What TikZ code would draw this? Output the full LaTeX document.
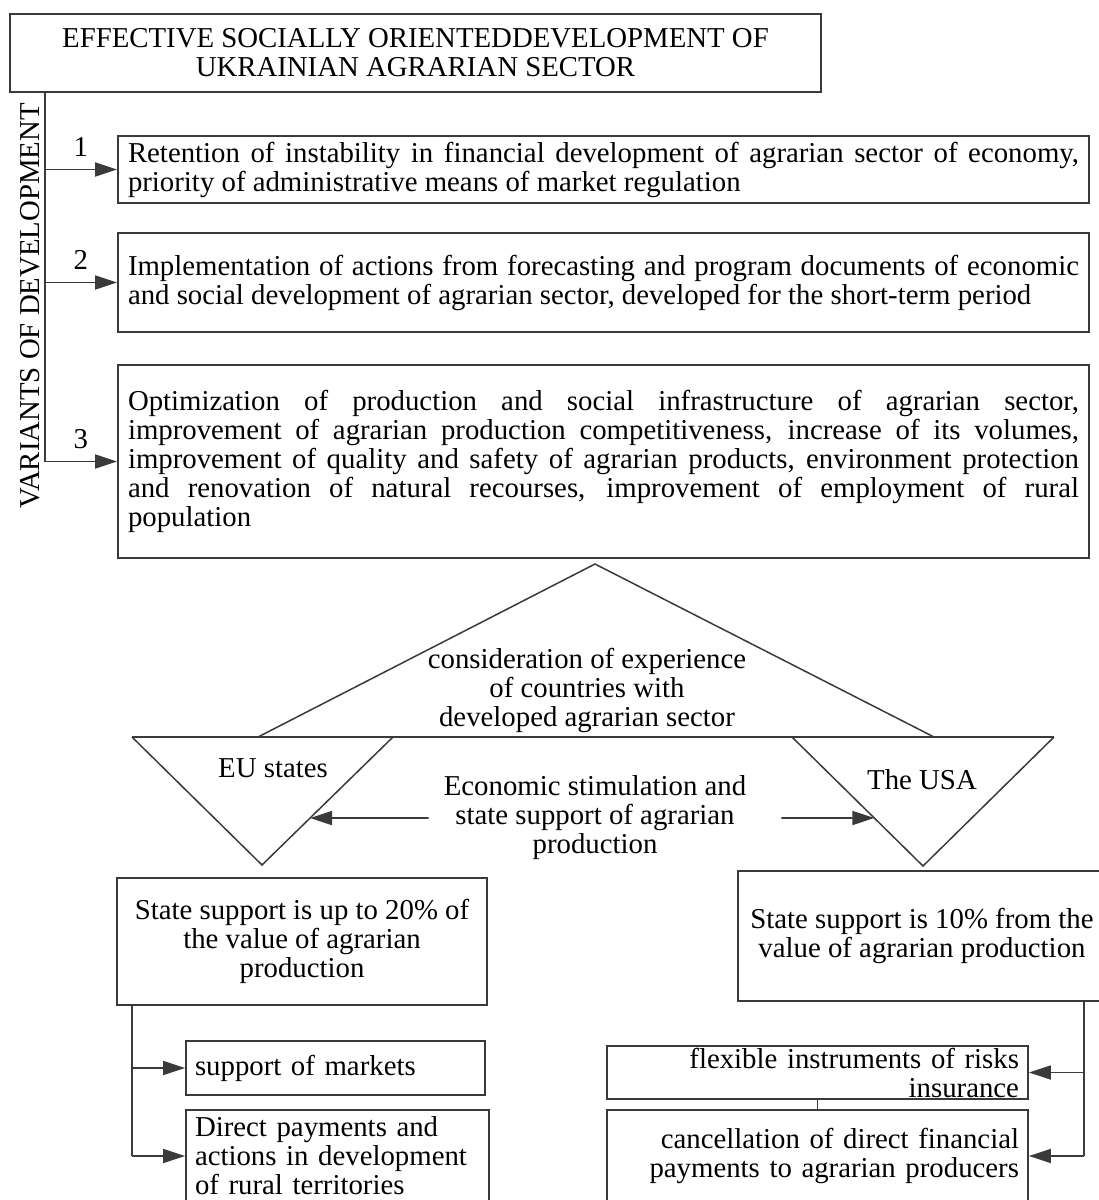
\documentclass[tikz,border=0pt]{standalone}
\usepackage{fontspec}
\setmainfont{Liberation Serif}
\usetikzlibrary{arrows.meta,calc,positioning}
\definecolor{gris}{HTML}{3A3A3A}

\begin{document}
\begin{tikzpicture}[x=1pt, y=-1pt,
    every node/.style={font=\fontsize{28.8}{29}\selectfont, inner sep=0pt},
    linea/.style={draw=gris, line width=1.8pt},
    caja/.style={linea, rectangle},
    flecha/.style={linea, -{Triangle[length=22pt,width=14pt]}}]
    \useasboundingbox (0,0) rectangle (1099,1200);
    % Title box
    \node[caja, minimum width=811pt, minimum height=78pt, align=center] (titulo) at (415.5,53)
        {EFFECTIVE SOCIALLY ORIENTEDDEVELOPMENT OF\\UKRAINIAN AGRARIAN SECTOR};
    \node[rotate=90] (variantes) at (30,306) {VARIANTS OF DEVELOPMENT};
    % Three variants of development
    \node[caja, minimum width=971pt, minimum height=67pt, text width=951pt, align=justify] (ret) at (603.5,169.5)
        {Retention of instability in financial development of agrarian sector of economy,\linebreak
         priority of administrative means of market regulation};
    \node[caja, minimum width=971pt, minimum height=99pt, text width=951pt, align=justify] (impl) at (603.5,282.5)
        {Implementation of actions from forecasting and program documents of economic\linebreak
         and social development of agrarian sector, developed for the short-term period};
    \node[caja, minimum width=971pt, minimum height=193pt, text width=951pt, align=justify] (opt) at (603.5,461.5)
        {Optimization of production and social infrastructure of agrarian sector,\linebreak
         improvement of agrarian production competitiveness, increase of its volumes,\linebreak
         improvement of quality and safety of agrarian products, environment protection\linebreak
         and renovation of natural recourses, improvement of employment of rural\linebreak
         population};
    \coordinate (tronco) at ([xshift=35.6pt]titulo.south west);
    \draw[linea] (tronco) -- (tronco |- opt.west);
    \draw[flecha] (tronco |- ret.west) -- node[above=12pt] {1} (ret.west);
    \draw[flecha] (tronco |- impl.west) -- node[above=12pt] {2} (impl.west);
    \draw[flecha] (tronco |- opt.west) -- node[above=12pt] {3} (opt.west);
    % Triangles: experience of countries, EU, USA
    \coordinate (cima) at (595,564);
    \coordinate (base-i) at (258,737);
    \coordinate (base-d) at (934,737);
    \coordinate (eu-i) at (132,737);
    \coordinate (eu-d) at (393,737);
    \coordinate (eu-v) at (262,865);
    \coordinate (usa-i) at (792,737);
    \coordinate (usa-d) at (1054,737);
    \coordinate (usa-v) at (923,866);
    \draw[linea, line width=1.5pt] (base-i) -- (cima) -- (base-d);
    \draw[linea, line width=1.5pt] (eu-i) -- (usa-d);
    \draw[linea, line width=1.5pt] (eu-i) -- (eu-v) -- (eu-d);
    \draw[linea, line width=1.5pt] (usa-i) -- (usa-v) -- (usa-d);
    \node[align=center] (experiencia) at (587,690)
        {consideration of experience\\of countries with\\developed agrarian sector};
    \node (ue) at (273,768) {EU states};
    \node (eeuu) at (922,780) {The USA};
    \node[align=center] (estimulo) at (595,818)
        {Economic stimulation and\\state support of agrarian\\production};
    \draw[flecha] ([xshift=-15pt]estimulo.west) -- ($(eu-d)!0.633!(eu-v)$);
    \draw[flecha] ([xshift=35pt]estimulo.east) -- ($(usa-i)!0.628!(usa-v)$);
    % EU support
    \node[caja, minimum width=370pt, minimum height=127pt, align=center] (apoyo-ue) at (302,941.5)
        {State support is up to 20\% of\\the value of agrarian\\production};
    \node[caja, minimum width=299pt, minimum height=54pt, text width=281pt, align=left] (mercados) at (335.5,1068)
        {support of markets};
    \node[caja, minimum width=303pt, minimum height=92pt, text width=285pt, align=left] (pagos) at (337.5,1156)
        {Direct payments and\\actions in development\\of rural territories};
    \coordinate (rama-ue) at ([xshift=16pt]apoyo-ue.south west);
    \draw[linea] (rama-ue) -- (rama-ue |- pagos.west);
    \draw[flecha] (rama-ue |- mercados.west) -- (mercados.west);
    \draw[flecha] (rama-ue |- pagos.west) -- (pagos.west);
    % USA support
    \node[caja, minimum width=368pt, minimum height=130pt, align=center] (apoyo-eeuu) at (922,936)
        {State support is 10\% from the\\value of agrarian production};
    \node[caja, minimum width=421pt, minimum height=53pt, text width=403pt, align=right] (seguros) at (817.5,1072.5)
        {flexible instruments of risks\\insurance};
    \node[caja, minimum width=421pt, minimum height=92pt, text width=403pt, align=right] (cancelacion) at (817.5,1156)
        {cancellation of direct financial\\payments to agrarian producers};
    \coordinate (rama-eeuu) at ([xshift=-23pt]apoyo-eeuu.south east);
    \draw[linea] (rama-eeuu) -- (rama-eeuu |- cancelacion.east);
    \draw[flecha] (rama-eeuu |- seguros.east) -- (seguros.east);
    \draw[flecha] (rama-eeuu |- cancelacion.east) -- (cancelacion.east);
    \draw[draw=gris, line width=0.8pt] (seguros.south) -- (cancelacion.north);
\end{tikzpicture}
\end{document}
